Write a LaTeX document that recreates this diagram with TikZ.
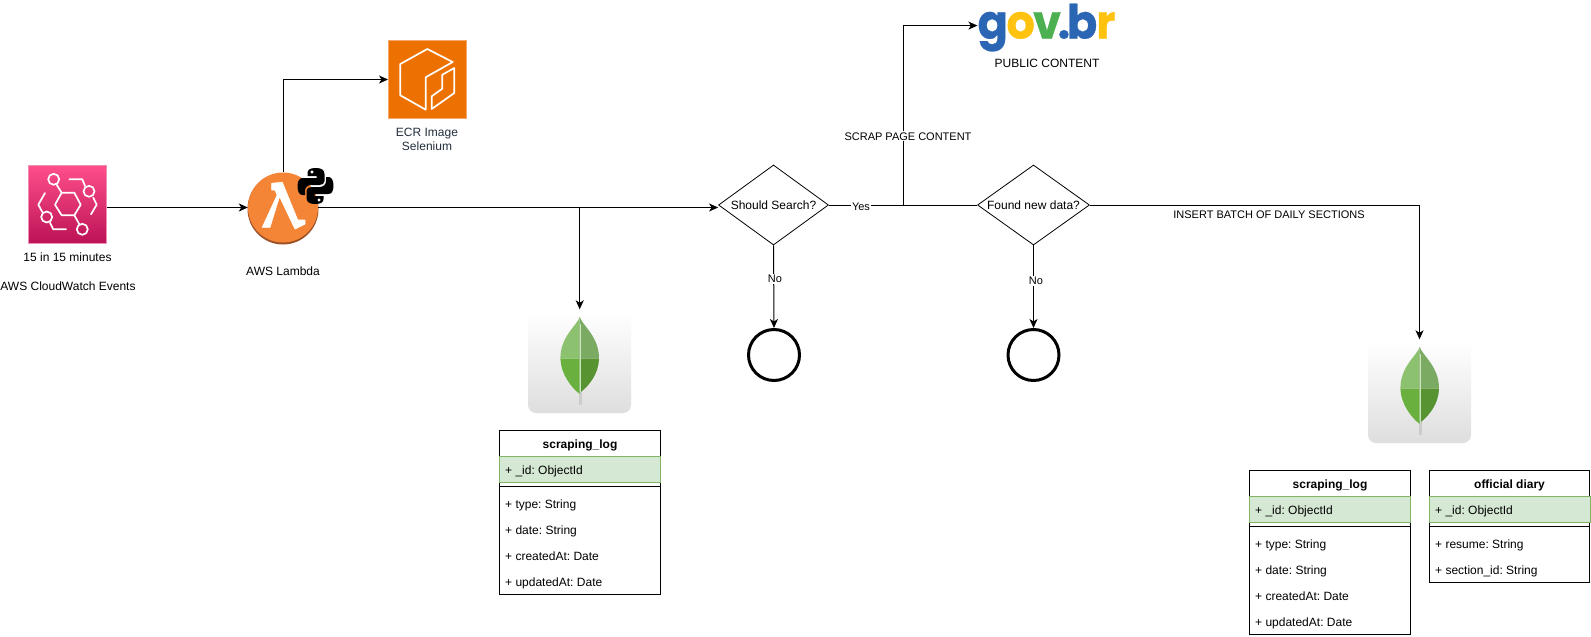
\documentclass[tikz,border=0pt]{standalone}
\usepackage{fontspec}
\setmainfont{Liberation Sans}
\newfontfamily\govfont{Poppins}[FakeBold=0.6]
\usetikzlibrary{arrows.meta,shapes.geometric,calc}
\definecolor{pinkT}{HTML}{FF4F8B}
\definecolor{pinkB}{HTML}{BC1356}
\definecolor{pinkE}{HTML}{F08FB5}
\definecolor{ecrO}{HTML}{ED7100}
\definecolor{ecrE}{HTML}{F5A86A}
\definecolor{ink}{HTML}{232F3E}
\definecolor{lamO}{HTML}{F58536}
\definecolor{lamD}{HTML}{9D5025}
\definecolor{bandF}{HTML}{D5E8D4}
\definecolor{bandE}{HTML}{82B366}
\definecolor{govB}{HTML}{2A66B3}
\definecolor{govY}{HTML}{FFC20E}
\definecolor{govG}{HTML}{4CB050}
\definecolor{leafA}{HTML}{8BC16F}
\definecolor{leafB}{HTML}{7BAA62}
\definecolor{leafC}{HTML}{6AB03F}
\definecolor{leafD}{HTML}{589332}
\frenchspacing
\newcommand{\fs}[1]{\fontsize{#1}{#1}\selectfont}
\newcommand{\snake}{%
  (-8,-10) -- (-8,-13) .. controls (-8,-16.5) and (-5,-18) .. (0.5,-18)
  .. controls (6,-18) and (9,-16) .. (9,-12) -- (9,-5)
  .. controls (9,-2.5) and (7,-1) .. (4,-1) -- (-4,-1)
  .. controls (-8,-1) and (-10.5,1.5) .. (-10.5,5) -- (-10.5,9) -- (-13,9)
  .. controls (-16,9) and (-18,6) .. (-18,0)
  .. controls (-18,-5) and (-16,-8) .. (-13,-8) -- (1,-8) -- (1,-10) -- cycle}
\newcommand{\mongoleaf}{%
  \fill[black!20] (-0.6,78) rectangle (2.6,93);
  \fill[leafA] (0,4.7) .. controls (-2,13) and (-19.5,24) .. (-19.3,46.7) -- (0,46.7) -- cycle;
  \fill[leafB] (0,4.7) .. controls (2,13) and (19.5,24) .. (19.3,46.7) -- (0,46.7) -- cycle;
  \fill[leafC] (-19.3,46.7) .. controls (-19,62) and (-8,76) .. (0,82) -- (0,46.7) -- cycle;
  \fill[leafD] (19.3,46.7) .. controls (19,62) and (9,74) .. (1.2,80) -- (1.2,46.7) -- (0,46.7) -- cycle;
  \draw[line width=0.5pt,white!55!leafA] (0.4,12) -- (0.4,80);}
\tikzset{
  x=1pt,y=-1pt,
  flow/.style={draw=black,line width=1pt,-{Stealth[length=9pt,width=8pt,inset=2.5pt]}},
  plain/.style={draw=black,line width=1pt},
  txt/.style={font=\fs{12},inner sep=0pt,text=black,anchor=base},
  lbl/.style={font=\fs{11},fill=white,inner sep=1pt,text=black,anchor=base},
  dec/.style={draw=black,line width=0.8pt,fill=white,diamond,inner sep=0pt,font=\fs{12},aspect=1.35},
  endc/.style={draw=black,line width=3pt,circle,minimum size=51pt,inner sep=0pt,fill=white},
  mongobox/.style={rounded corners=8pt,top color=white,bottom color=black!13,minimum width=103pt,minimum height=101pt,inner sep=0pt},
  tbl/.style={draw=black,line width=1pt,minimum width=160.5pt,inner sep=0pt,fill=white},
  band/.style={draw=bandE,line width=1pt,fill=bandF,minimum width=161pt,minimum height=26pt,inner sep=0pt},
  ttl/.style={font=\fs{12}\bfseries,inner sep=0pt,text=black,anchor=base},
  row/.style={font=\fs{12},inner sep=0pt,anchor=base west,text=black},
  icn/.style={draw=white,line width=1.7pt,line join=round,line cap=round},
}
\begin{document}
\begin{tikzpicture}
\useasboundingbox[fill=white] (0,0) rectangle (1591,637);

% CloudWatch icon
\node[draw=pinkE,line width=1pt,top color=pinkT,bottom color=pinkB,minimum size=78pt,inner sep=0pt] (cw) at (67.5,204) {};
\draw[icn] (55,204.7) -- (61.7,192.7) -- (74.3,192.7) -- (80.7,204.7) -- (74.3,215.3) -- (61.7,215.3) -- cycle;
\draw[icn] (53.7,179.3) circle[radius=5.5] (89,191.3) circle[radius=5.5] (46.7,217) circle[radius=5.5] (82.3,229.3) circle[radius=5.5];
\draw[icn] (56.5,184.5) -- (61.7,192.7) (74.3,215.3) -- (79.5,224.5);
\draw[icn] (69.3,179.3) -- (82.3,179.3) -- (85,186);
\draw[icn] (93.3,197.7) -- (96.7,204.7) -- (91,214.3);
\draw[icn] (45,193) -- (38.3,204.7) -- (42.3,212);
\draw[icn] (50,222.7) -- (53.3,229.3) -- (66,229.3);
\node[txt] (cwa) at (67.5,261) {15 in 15 minutes};
\node[txt] (cwb) at (68,290) {AWS CloudWatch Events};

% Lambda
\fill[lamD] (283,209) circle[radius=35.5];
\node[circle,fill=lamO,minimum size=70pt,inner sep=0pt] (lam) at (283,207.5) {};
\fill[white,draw=white,line width=0.7pt,line join=round] (271.7,183.3) -- (282.3,182.3) -- (297.7,220) -- (305,220) -- (305,224) -- (295,229) -- (279.5,196.5) -- (270,227.3) -- (262.3,227.3) -- (277.2,195) -- (275,190) -- (271.7,190) -- cycle;
\node[txt] (lamt) at (283,275) {AWS Lambda};

% Python logo
\fill[black,even odd rule] [shift={(315.5,186)}] \snake (-3.5,-14) circle[radius=1.8];
\fill[black,even odd rule] [shift={(315.5,186)},rotate=180] \snake (-3.5,-14) circle[radius=1.8];

% ECR
\node[draw=ecrE,line width=1pt,fill=ecrO,minimum size=78pt,inner sep=0pt] (ecr) at (427.5,79.5) {};
\draw[icn] (427.3,49) -- (452.7,62) -- (425.7,77.3) -- (425.7,109.7) -- (400.3,95.3) -- (400.3,64) -- cycle;
\draw[icn] (454.3,68) -- (454.3,93) -- (431.7,109) -- (431.7,96.3) -- (442.3,88.7) -- (442.3,74.7) -- cycle;
\node[txt,text=ink] (ecra) at (427,136) {ECR Image};
\node[txt,text=ink] (ecrb) at (427,150) {Selenium};

% gov.br
\node[font=\govfont\bfseries\fs{47},inner sep=0pt,anchor=base,xscale=0.95] (gov) at (1046.5,38.5)
  {\color{govB}g\kern-1.5pt\color{govY}o\kern-2pt\color{govG}v\kern-3.5pt\color{govB}.\kern-3.5pt b\kern-1pt\color{govY}r};
\node[txt] (pub) at (1047,67.5) {PUBLIC CONTENT};

% Decisions and ends
\node[dec,minimum width=110pt,minimum height=80pt] (d1) at (773.5,205) {Should Search?};
\node[dec,minimum width=112pt,minimum height=80pt] (d2) at (1033.5,205) {Found new data?};
\node[endc] (e1) at (774,355) {};
\node[endc] (e2) at (1033.5,355) {};

% Mongo
\node[mongobox] (m1) at (579.5,362.5) {};
\begin{scope}[shift={(579.7,312)}]\mongoleaf\end{scope}
\node[mongobox] (m2) at (1419.5,392.5) {};
\begin{scope}[shift={(1419.7,342)}]\mongoleaf\end{scope}

% Table scraping_log (left)
\node[tbl,minimum height=164pt] (t1) at (580,512) {};
\node[ttl] (t1t) at (580,448) {scraping\_log};
\node[band] (t1b) at (580,469) {};
\node[row] (t1i) at (505,474) {+ \_id: ObjectId};
\coordinate (t1sl) at (499.5,486); \coordinate (t1sr) at (660.5,486);
\draw[plain] (t1sl) -- (t1sr);
\node[row] (t1r1) at (505,508) {+ type: String};
\node[row] (t1r2) at (505,534) {+ date: String};
\node[row] (t1r3) at (505,560) {+ createdAt: Date};
\node[row] (t1r4) at (505,586) {+ updatedAt: Date};

% Table scraping_log (right)
\node[tbl,minimum height=164pt] (t2) at (1330,552) {};
\node[ttl] (t2t) at (1330,488) {scraping\_log};
\node[band] (t2b) at (1330,509) {};
\node[row] (t2i) at (1255,514) {+ \_id: ObjectId};
\coordinate (t2sl) at (1249.5,526); \coordinate (t2sr) at (1410.5,526);
\draw[plain] (t2sl) -- (t2sr);
\node[row] (t2r1) at (1255,548) {+ type: String};
\node[row] (t2r2) at (1255,574) {+ date: String};
\node[row] (t2r3) at (1255,600) {+ createdAt: Date};
\node[row] (t2r4) at (1255,626) {+ updatedAt: Date};

% Table official diary
\node[tbl,minimum height=112pt] (t3) at (1509.5,526) {};
\node[ttl] (t3t) at (1509.5,488) {official diary};
\node[band] (t3b) at (1509.5,509) {};
\node[row] (t3i) at (1435,514) {+ \_id: ObjectId};
\coordinate (t3sl) at (1429,526); \coordinate (t3sr) at (1590,526);
\draw[plain] (t3sl) -- (t3sr);
\node[row] (t3r1) at (1435,548) {+ resume: String};
\node[row] (t3r2) at (1435,574) {+ section\_id: String};

% Connectors
\coordinate (j1) at (579.7,207.7);
\coordinate (j2) at (903,205);
\draw[flow] (cw.east |- lam.west) -- (lam.west);
\draw[flow] (lam.north) |- (ecr.west);
\draw[flow] (lam.east) -- (lam.east -| d1.west);
\draw[flow,shorten >=2.5pt] (j1) -- (m1.north -| j1);
\draw[plain] (d1.east) -- (d2.west);
\draw[flow] (j2) |- ([yshift=2pt]gov.west);
\draw[flow] (d1.south) -- (e1.north);
\draw[flow] (d2.south) -- (e2.north);
\draw[flow,shorten >=2.5pt] (d2.east) -| (m2.north);

% Connector labels
\node[lbl] (yes) at (861,210) {Yes};
\node[lbl] (no1) at (775,282.7) {No};
\node[lbl] (no2) at (1036,284.7) {No};
\node[lbl] (scrap) at (908,140) {SCRAP PAGE CONTENT};
\node[lbl,fill=none] (ins) at (1269,218) {INSERT BATCH OF DAILY SECTIONS};
\end{tikzpicture}
\end{document}
